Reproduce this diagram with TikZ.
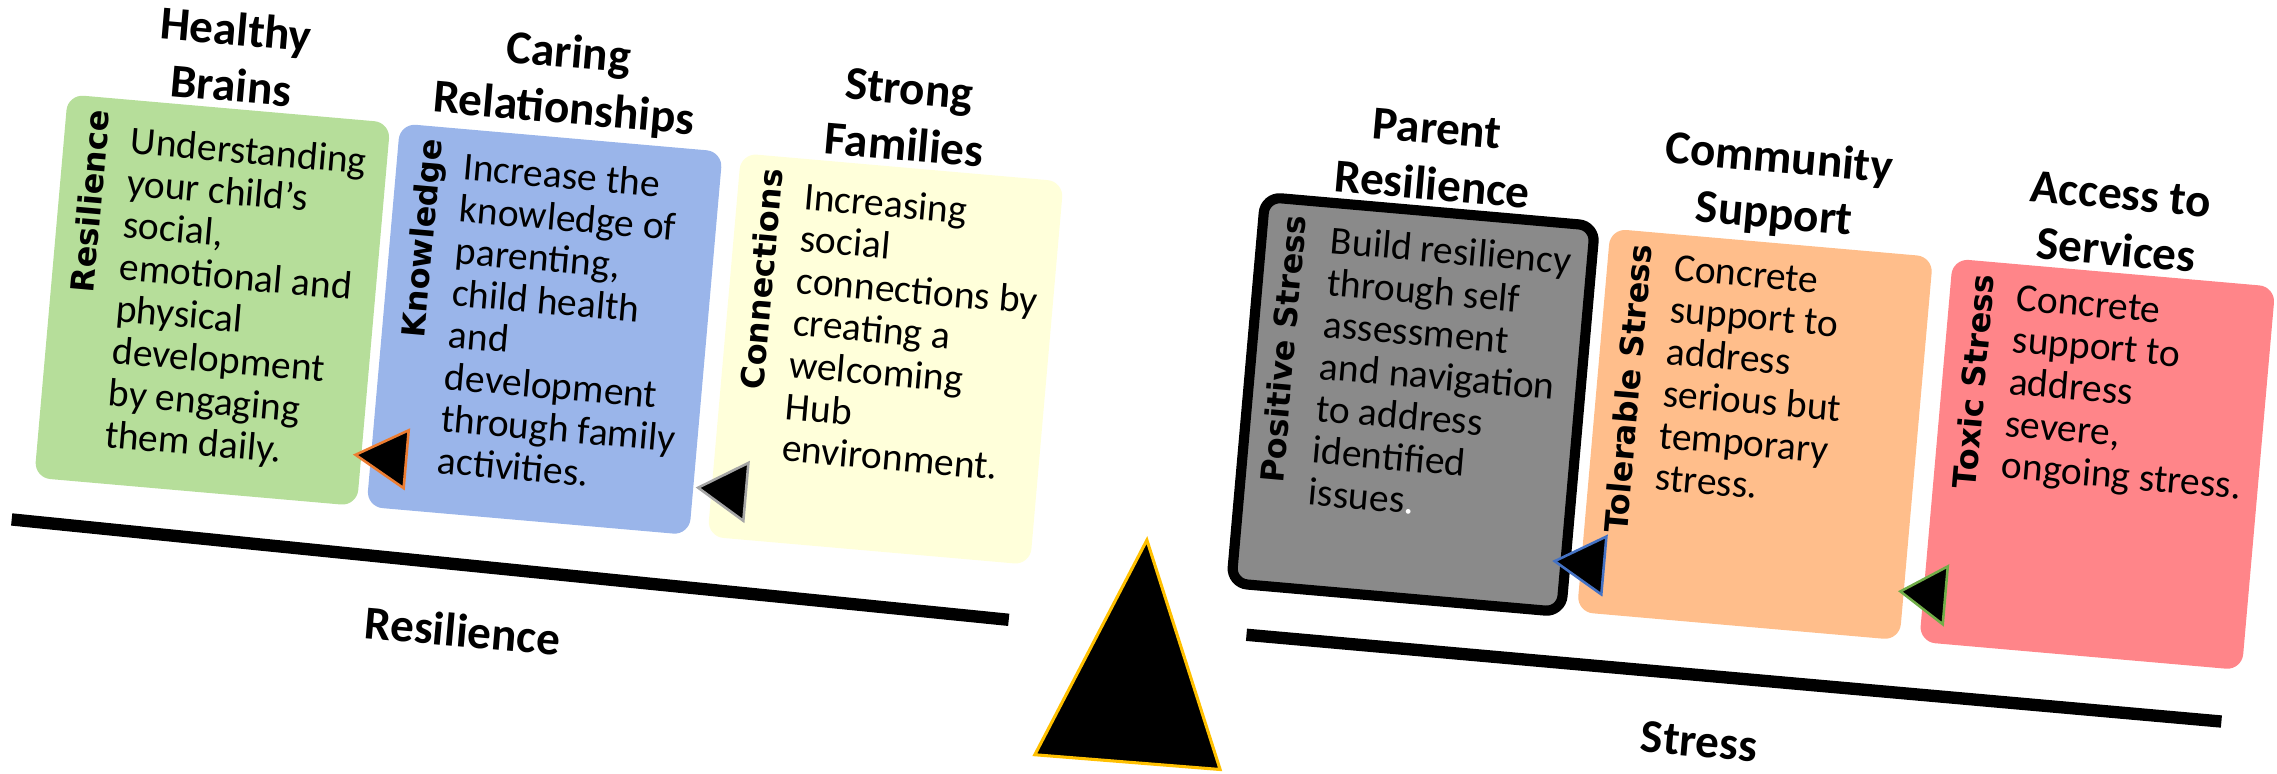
\documentclass[tikz,border=0pt]{standalone}
\usepackage{fontspec}
\setmainfont{Carlito}
\newfontfamily\sidefont{DejaVu Sans}
\usetikzlibrary{positioning}
\definecolor{brainfill}{HTML}{B6DE9A}
\definecolor{carefill}{HTML}{9AB5EA}
\definecolor{familyfill}{HTML}{FFFFDA}
\definecolor{parentfill}{HTML}{8A8A8A}
\definecolor{communityfill}{HTML}{FFBE8B}
\definecolor{accessfill}{HTML}{FF8589}
\definecolor{tiporange}{HTML}{ED7D31}
\definecolor{tipgray}{HTML}{A5A5A5}
\definecolor{tipblue}{HTML}{4472C4}
\definecolor{tipgreen}{HTML}{70AD47}
\definecolor{pivotgold}{HTML}{FFC000}
\begin{document}
\begin{tikzpicture}[x=0.02cm, y=0.02cm,
  box/.style={rounded corners=0.22cm, minimum width=4.46cm, minimum height=5.3cm, inner sep=0pt},
  head/.style={font=\bfseries\fontsize{18.5}{22}\selectfont, align=center, inner sep=0pt},
  body/.style={font=\fontsize{15.5}{16.5}\selectfont, align=left, inner sep=0pt, anchor=north west},
  side/.style={font=\sidefont\bfseries\fontsize{12.5}{14}\selectfont, rotate=90, inner sep=0pt, anchor=north east},
  beam/.style={line width=0.17cm},
  tip/.style={fill=black, line width=1pt}]
  \useasboundingbox (-784,-267) rectangle (784,266);
  \begin{scope}[rotate=-5, transform shape]
    \node[box, fill=brainfill] (brains) at (-640.5,3.5) {};
    \node[box, fill=carefill, right=0.12cm of brains] (caring) {};
    \node[box, fill=familyfill, right=0.24cm of caring] (strong) {};
    \node[box, fill=parentfill, draw=black, line width=0.14cm,
          minimum width=4.56cm, minimum height=5.34cm] (parent) at (189.5,4) {};
    \node[box, fill=communityfill, right=0.14cm of parent] (community) {};
    \node[box, fill=accessfill, right=0.26cm of community] (access) {};

    \node[head, above=0.08cm of brains] (brainshead) {Healthy\\Brains};
    \node[head, above=0.08cm of caring] (caringhead) {Caring\\Relationships};
    \node[head, above=0.08cm of strong] (stronghead) {Strong\\Families};
    \node[head, above=0.08cm of parent] (parenthead) {Parent\\Resilience};
    \node[head, above=0.08cm of community] (communityhead) {Community\\Support};
    \node[head, above=0.08cm of access] (accesshead) {Access to\\Services};

    \node[side] (brainstag) at ([shift={(13,-9)}]brains.north west) {Resilience};
    \node[side] (caringtag) at ([shift={(13,-9)}]caring.north west) {Knowledge};
    \node[side] (strongtag) at ([shift={(13,-9)}]strong.north west) {Connections};
    \node[side] (parenttag) at ([shift={(16,-14)}]parent.north west) {Positive Stress};
    \node[side] (communitytag) at ([shift={(13,-9)}]community.north west) {Tolerable Stress};
    \node[side] (accesstag) at ([shift={(13,-9)}]access.north west) {Toxic Stress};

    \node[body] (brainstext) at ([shift={(46,-18)}]brains.north west)
      {Understanding\\your child’s\\social,\\emotional and\\physical\\development\\by engaging\\them daily.};
    \node[body] (caringtext) at ([shift={(46,-16)}]caring.north west)
      {Increase the\\knowledge of\\parenting,\\child health\\and\\development\\through family\\activities.};
    \node[body] (strongtext) at ([shift={(46,-16)}]strong.north west)
      {Increasing\\social\\connections by\\creating a\\welcoming\\Hub\\environment.};
    \node[body] (parenttext) at ([shift={(51,-19)}]parent.north west)
      {Build resiliency\\through self\\assessment\\and navigation\\to address\\identified\\issues\textcolor{white}{.}};
    \node[body] (communitytext) at ([shift={(46,-14)}]community.north west)
      {Concrete\\support to\\address\\serious but\\temporary\\stress.};
    \node[body] (accesstext) at ([shift={(46,-14)}]access.north west)
      {Concrete\\support to\\address\\severe,\\ongoing stress.};

    \filldraw[tip, draw=tiporange] (-533,-94) -- (-498,-74) -- (-498,-114) -- cycle;
    \filldraw[tip, draw=tipgray] (-296,-96) -- (-263,-76) -- (-263,-116) -- cycle;
    \filldraw[tip, draw=tipblue] (296,-95) -- (330,-75) -- (330,-115) -- cycle;
    \filldraw[tip, draw=tipgreen] (535,-95) -- (566,-75) -- (566,-115) -- cycle;

    \draw[beam] (-765,-159) -- (-75,-168);
    \draw[beam] (89,-164) -- (763,-165);
    \node[head] (resiliencelabel) at (-449,-208) {Resilience};
    \node[head] (stresslabel) at (406,-210) {Stress};

    \filldraw[fill=black, draw=pivotgold, line width=1.2pt] (15,-105) -- (79,-258) -- (-49,-259) -- cycle;
  \end{scope}
\end{tikzpicture}
\end{document}
